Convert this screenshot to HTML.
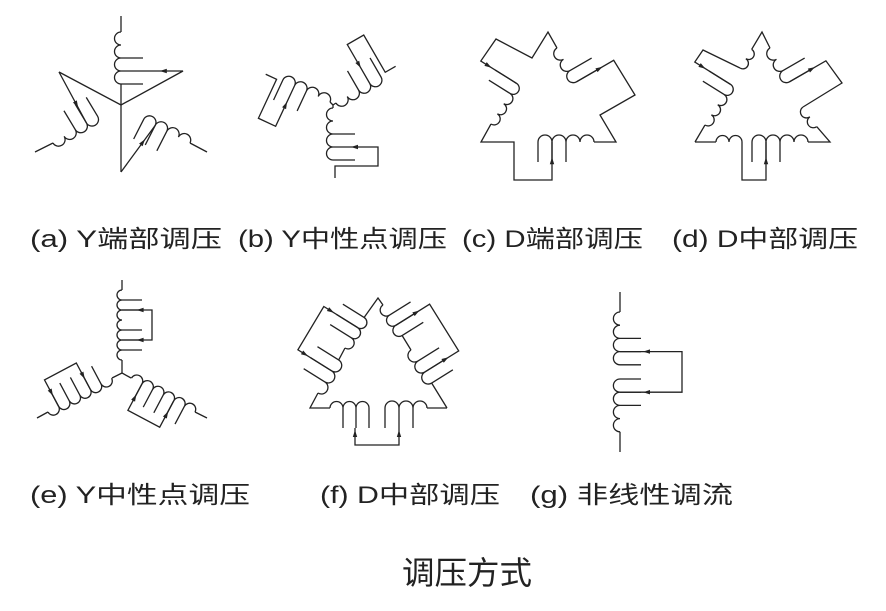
<!DOCTYPE html>
<html><head><meta charset="utf-8"><style>
html,body{margin:0;padding:0;background:#fff;}
svg{display:block}
text{font-family:"Liberation Sans","Noto Sans CJK SC",sans-serif;fill:#222}
</style></head><body>
<svg id="s" width="886" height="611" viewBox="0 0 886 611" xmlns="http://www.w3.org/2000/svg">
<g id="g" fill="none" stroke="#222" stroke-width="1.3" stroke-linejoin="miter"></g>
<text x="30" y="247" font-size="24" textLength="192" lengthAdjust="spacingAndGlyphs">(a) Y端部调压</text>
<text x="238" y="247" font-size="24" textLength="209" lengthAdjust="spacingAndGlyphs">(b) Y中性点调压</text>
<text x="462" y="247" font-size="24" textLength="181" lengthAdjust="spacingAndGlyphs">(c) D端部调压</text>
<text x="672" y="247" font-size="24" textLength="186" lengthAdjust="spacingAndGlyphs">(d) D中部调压</text>
<text x="30" y="503" font-size="24" textLength="220" lengthAdjust="spacingAndGlyphs">(e) Y中性点调压</text>
<text x="320" y="503" font-size="24" textLength="180" lengthAdjust="spacingAndGlyphs">(f) D中部调压</text>
<text x="530" y="503" font-size="24" textLength="203" lengthAdjust="spacingAndGlyphs">(g) 非线性调流</text>
<text x="402" y="584" font-size="32" textLength="130" lengthAdjust="spacingAndGlyphs">调压方式</text>
</svg>
<script>
var out='';
var D=Math.PI/180;
function C(ox,oy,dir,n,r,taps,len,extra){
  var t=dir-90;var d='M0,0';
  for(var i=0;i<n;i++)d+=' a'+r+','+r+' 0 0 0 0,'+(2*r);
  for(var j=0;j<taps.length;j++){var k=taps[j];d+=' M0,'+(2*r*k)+' h'+len;}
  out+='<g transform="translate('+ox+','+oy+') rotate('+t+')"><path d="'+d+' '+(extra||'')+'"/></g>';
  return {tap:function(k,L){var th=t*D,x=L,y=2*r*k;return [ox+x*Math.cos(th)-y*Math.sin(th),oy+x*Math.sin(th)+y*Math.cos(th)];},
          end:function(){return this.tap(n,0);}};
}
function pl(){var a=[];for(var i=0;i<arguments.length;i++){var p=arguments[i];a.push(p[0].toFixed(1)+','+p[1].toFixed(1));}out+='<polyline points="'+a.join(' ')+'"/>';}
function ar(p,q,f){f=f||0.5;var x=p[0]+(q[0]-p[0])*f,y=p[1]+(q[1]-p[1])*f;var a=Math.atan2(q[1]-p[1],q[0]-p[0])/D;
  out+='<path d="M0,0 L-7,-2.2 L-7,2.2 Z" fill="#222" stroke="none" transform="translate('+x+','+y+') rotate('+a+')"/>';}
function bx(c,k1,k2,L){pl(c.tap(k1,0),c.tap(k1,L),c.tap(k2,L),c.tap(k2,0));}

// (a)
pl([121,16],[121,32]);
var a1=C(121,32,90,4,6.5,[2,3,4],22);
pl([121,84],[121,105]);
pl([143,71],[183,71],[121,105],[59,72]);
ar([183,71],[125,71],0.4);
pl([35,152],[53,143]);
var a2=C(53,143,-31,4,6.5,[2,3,4],22);
var pa=a2.tap(3,0);pl([59,72],pa);ar([59,72],pa,0.7);
pl([121,105],[121,172]);
pl([207,152],[190,143]);
var a3=C(190,143,-153,4,6.5,[2,3,4],22);
var pb=a3.tap(3,0);pl([121,172],pb);ar([121,172],pb,0.7);

// (b)
var bex='M22,39 H45 V58 H2 V70';
pl([333,105],[333,108]);
var b1=C(333,108,90,4,6.5,[2,3,4],22,bex);ar(b1.tap(3,45),b1.tap(3,0),0.6);
var b2=C(336,103,-30,4,6.5,[2,3,4],22,bex);ar(b2.tap(3,45),b2.tap(3,0),0.6);
var b3=C(330,102,-155,4,6.5,[2,3,4],22,bex);ar(b3.tap(3,45),b3.tap(3,0),0.6);
pl([333,105],[336,103]);pl([333,105],[330,102]);

// (c)
var c1=C(557,48,60,3,6.5,[2,3],25);
var e1=c1.tap(3,43);pl(c1.tap(3,0),e1,[635,95],[600,115],[616,142],[594,142]);ar(c1.tap(3,0),e1,0.7);
var c2=C(594,142,180,4,7,[2,3,4],20);
pl([552,142],[552,180],[514,180],[514,142],[481,142],[491,124]);ar([552,180],[552,142],0.6);
var c3=C(491,124,-58,4,6,[3,4],25);
var e3=c3.tap(4,42);pl(c3.tap(4,0),e3,[496,39],[532,58],[548,32],[557,48]);ar(e3,c3.tap(4,0),0.3);

// (d)
pl([695,142],[705,125]);
var d1=C(705,125,-58,4,6,[3,4],25);
var f1=d1.tap(4,42);pl(d1.tap(4,0),f1,[703,50],[740,68]);ar(f1,d1.tap(4,0),0.3);
var d1b=C(740,68,-58,2,5.5,[],0);pl(d1b.end(),[762,32],[770,48]);
var d2=C(770,48,60,3,6.5,[2,3],25);
var f2=d2.tap(3,42);pl(d2.tap(3,0),f2,[842,83],[803,107]);ar(d2.tap(3,0),f2,0.7);
var d2b=C(803,107,55,2,6,[],0);pl(d2b.end(),[830,142],[808,142]);
var d3=C(808,142,180,4,7,[2,3,4],20);
pl([766,142],[766,180],[742,180],[742,142]);ar([766,180],[766,142],0.6);
var d4=C(742,142,180,2,6.5,[],0);pl(d4.end(),[695,142]);

// (e)
pl([122,280],[122,290]);
var e1c=C(122,290,90,7,5,[1,2,4,5,6],20);
pl([122,310],[152,310],[152,340],[122,340]);ar([152,310],[130,310],0.7);ar([152,340],[130,340],0.7);
pl([122,360],[122,373],[131,378]);pl([122,373],[112,378]);
pl([207,418],[195,412]);
var e2=C(195,412,208,6,6,[1,2,3,4,5],20);bx(e2,2,5,30);ar(e2.tap(2,30),e2.tap(2,0),0.6);ar(e2.tap(5,30),e2.tap(5,0),0.6);
pl([37,418],[48,412]);
var e3c=C(48,412,-28,6,6,[1,2,3,4,5],20);bx(e3c,1,4,30);ar(e3c.tap(1,30),e3c.tap(1,0),0.6);ar(e3c.tap(4,30),e3c.tap(4,0),0.6);

// (f)
var f1a=C(369,408,180,3,6.5,[0,1,2],20);pl([330,408],[310,408],[318,393]);
var f2a=C(427,408,180,3,7,[1,2,3],20);pl([447,408],[427,408]);
pl([355,428],[355,445],[399,445],[399,428]);ar([355,445],[355,420],0.6);ar([399,445],[399,420],0.6);
var fl1=C(318,393,-58,3,6.5,[1,2,3],25);
var fl2=C(345,348,-58,3,6,[1,2,3],25);
pl(fl1.end(),[345,348]);pl(fl2.end(),[378,298],[383,305]);
pl(fl1.tap(2,0),fl1.tap(2,40),fl2.tap(2,40),fl2.tap(2,0));
ar(fl1.tap(2,40),fl1.tap(2,0),0.3);ar(fl2.tap(2,40),fl2.tap(2,0),0.3);
var fr1=C(383,305,58,3,6,[1,2,3],25);
var fr2=C(411,350,58,3,6.5,[1,2,3],25);
pl(fr1.end(),[411,350]);pl(fr2.end(),[447,408]);
pl(fr1.tap(2,0),fr1.tap(2,40),fr2.tap(2,40),fr2.tap(2,0));
ar(fr1.tap(2,0),fr1.tap(2,40),0.7);ar(fr2.tap(2,0),fr2.tap(2,40),0.7);

// (g)
pl([620,292],[620,312]);
var g1=C(620,312,90,4,6.6,[2,3,4],21);
var g2=C(620,379,90,4,6.6,[0,1,2],21);
pl([620,431.8],[620,452]);
pl([620,351.6],[682,351.6],[682,392.2],[620,392.2]);
ar([682,351.6],[630,351.6],0.75);ar([682,392.2],[630,392.2],0.75);

document.getElementById('g').innerHTML=out;
</script>
</body></html>
